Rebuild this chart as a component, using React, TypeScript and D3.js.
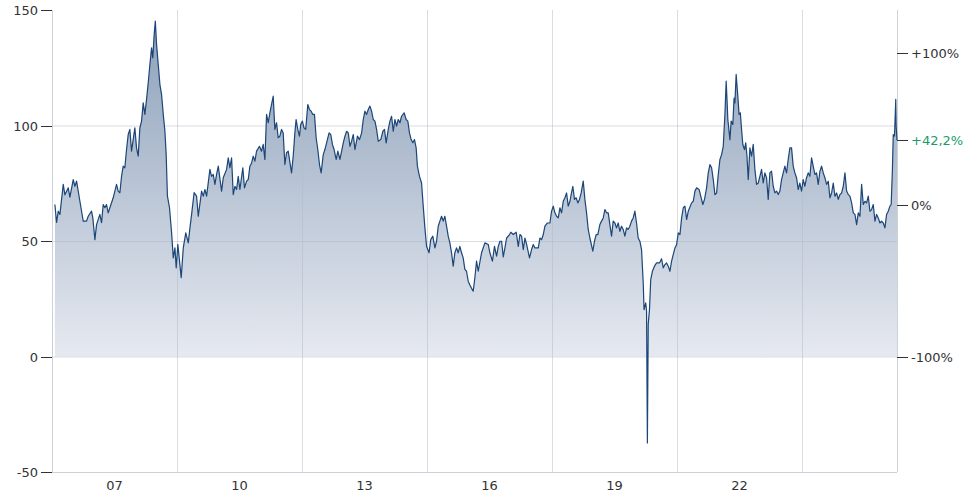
/*eslint-disable*/
import React, { useEffect, useRef } from 'react';
import * as d3 from 'd3';

// decimal years and prices (USD / barrel)
const years = [
  2006.07, 2006.11, 2006.15, 2006.19, 2006.27, 2006.31, 2006.39, 2006.43, 2006.51, 2006.55, 2006.59, 2006.67, 2006.75, 2006.83, 2006.87, 2006.95, 2006.98,
  2007.03, 2007.07, 2007.15, 2007.19, 2007.23, 2007.27, 2007.31, 2007.35, 2007.39, 2007.47, 2007.55, 2007.59, 2007.63, 2007.67, 2007.71, 2007.75, 2007.79, 2007.83, 2007.87, 2007.91, 2007.95, 2007.99,
  2008.03, 2008.07, 2008.11, 2008.15, 2008.19, 2008.23, 2008.27, 2008.31, 2008.35, 2008.39, 2008.42, 2008.45, 2008.48, 2008.51, 2008.55, 2008.59, 2008.63, 2008.67, 2008.71, 2008.74, 2008.77, 2008.82, 2008.87, 2008.91, 2008.95, 2008.98,
  2009.02, 2009.06, 2009.10, 2009.15, 2009.21, 2009.27, 2009.31, 2009.35, 2009.41, 2009.47, 2009.51, 2009.59, 2009.63, 2009.67, 2009.71, 2009.79, 2009.83, 2009.87, 2009.91, 2009.95, 2009.99,
  2010.07, 2010.11, 2010.19, 2010.23, 2010.27, 2010.31, 2010.35, 2010.39, 2010.43, 2010.47, 2010.51, 2010.58, 2010.62, 2010.67, 2010.71, 2010.75, 2010.79, 2010.83, 2010.87, 2010.91, 2010.98,
  2011.03, 2011.07, 2011.11, 2011.15, 2011.19, 2011.23, 2011.27, 2011.31, 2011.35, 2011.39, 2011.43, 2011.47, 2011.51, 2011.55, 2011.59, 2011.63, 2011.67, 2011.75, 2011.79, 2011.83, 2011.86, 2011.90, 2011.94, 2011.97,
  2012.01, 2012.05, 2012.09, 2012.14, 2012.18, 2012.22, 2012.26, 2012.30, 2012.34, 2012.38, 2012.42, 2012.46, 2012.51, 2012.55, 2012.59, 2012.65, 2012.69, 2012.73, 2012.77, 2012.82, 2012.86, 2012.91, 2012.95, 2012.99,
  2013.03, 2013.07, 2013.11, 2013.15, 2013.19, 2013.23, 2013.27, 2013.33, 2013.38, 2013.43, 2013.47, 2013.51, 2013.55, 2013.59, 2013.63, 2013.67, 2013.71, 2013.75, 2013.79, 2013.83, 2013.89, 2013.94, 2013.98,
  2014.02, 2014.07, 2014.11, 2014.15, 2014.19, 2014.23, 2014.27, 2014.31, 2014.35, 2014.39, 2014.45, 2014.50, 2014.54, 2014.58, 2014.62, 2014.66, 2014.70, 2014.74, 2014.77, 2014.82, 2014.87, 2014.91, 2014.95, 2014.99,
  2015.05, 2015.09, 2015.14, 2015.19, 2015.23, 2015.27, 2015.31, 2015.35, 2015.39, 2015.43, 2015.47, 2015.51, 2015.55, 2015.59, 2015.63, 2015.67, 2015.71, 2015.75, 2015.79, 2015.83, 2015.87, 2015.91, 2015.95, 2015.99,
  2016.03, 2016.07, 2016.11, 2016.15, 2016.19, 2016.23, 2016.31, 2016.39, 2016.47, 2016.51, 2016.57, 2016.62, 2016.67, 2016.71, 2016.75, 2016.79, 2016.83, 2016.87, 2016.91, 2016.98,
  2017.01, 2017.07, 2017.14, 2017.19, 2017.23, 2017.27, 2017.31, 2017.35, 2017.39, 2017.46, 2017.51, 2017.55, 2017.59, 2017.67, 2017.71, 2017.75, 2017.79, 2017.83, 2017.89, 2017.95, 2017.99,
  2018.03, 2018.07, 2018.11, 2018.15, 2018.19, 2018.23, 2018.27, 2018.31, 2018.35, 2018.39, 2018.43, 2018.46, 2018.50, 2018.54, 2018.58, 2018.62, 2018.66, 2018.70, 2018.75, 2018.79, 2018.83, 2018.87, 2018.91, 2018.98,
  2019.02, 2019.06, 2019.10, 2019.15, 2019.19, 2019.23, 2019.27, 2019.31, 2019.35, 2019.39, 2019.43, 2019.47, 2019.51, 2019.55, 2019.59, 2019.63, 2019.67, 2019.71, 2019.75, 2019.79, 2019.83, 2019.87, 2019.91, 2019.95, 2019.99,
  2020.03, 2020.07, 2020.11, 2020.15, 2020.19, 2020.21, 2020.25, 2020.27, 2020.29, 2020.31, 2020.34, 2020.37, 2020.41, 2020.46, 2020.51, 2020.58, 2020.63, 2020.67, 2020.71, 2020.75, 2020.79, 2020.83, 2020.87, 2020.91, 2020.95, 2020.99,
  2021.03, 2021.07, 2021.11, 2021.15, 2021.19, 2021.23, 2021.27, 2021.35, 2021.39, 2021.43, 2021.47, 2021.53, 2021.58, 2021.62, 2021.66, 2021.71, 2021.75, 2021.79, 2021.83, 2021.87, 2021.91, 2021.95, 2021.99,
  2022.03, 2022.07, 2022.11, 2022.15, 2022.18, 2022.20, 2022.22, 2022.27, 2022.30, 2022.34, 2022.37, 2022.39, 2022.42, 2022.46, 2022.49, 2022.52, 2022.55, 2022.58, 2022.62, 2022.65, 2022.68, 2022.71, 2022.75, 2022.79, 2022.83, 2022.87, 2022.91, 2022.95, 2022.99,
  2023.03, 2023.07, 2023.11, 2023.15, 2023.19, 2023.23, 2023.27, 2023.31, 2023.35, 2023.39, 2023.43, 2023.47, 2023.51, 2023.55, 2023.59, 2023.63, 2023.67, 2023.71, 2023.75, 2023.79, 2023.83, 2023.87, 2023.91, 2023.95, 2023.99,
  2024.03, 2024.07, 2024.11, 2024.15, 2024.19, 2024.23, 2024.27, 2024.31, 2024.35, 2024.39, 2024.43, 2024.47, 2024.51, 2024.55, 2024.59, 2024.63, 2024.67, 2024.71, 2024.75, 2024.79, 2024.83, 2024.87, 2024.91, 2024.95, 2024.99,
  2025.03, 2025.07, 2025.11, 2025.15, 2025.19, 2025.23, 2025.27, 2025.31, 2025.35, 2025.39, 2025.43, 2025.47, 2025.51, 2025.55, 2025.59, 2025.63, 2025.67, 2025.71, 2025.75, 2025.79, 2025.83, 2025.87, 2025.91, 2025.95, 2025.99,
  2026.03, 2026.07, 2026.11, 2026.14, 2026.17, 2026.19, 2026.22, 2026.25, 2026.26, 2026.28,
];

const prices = [
  65.8, 58, 62.9, 61.5, 74.5, 70, 73, 69, 76.6, 73.7, 75.9, 67.2, 58.6, 58.6, 60.7, 62.9, 60,
  50.6, 57.1, 61.5, 57.9, 65.8, 64.4, 65.8, 62.2, 64.4, 68.7, 74.5, 71.6, 70.9, 78, 82.4, 81.7, 89.6, 96.1, 98.3, 88.9, 93.9, 99,
  90.3, 86.7, 99, 101.9, 109.8, 104.8, 111.3, 118.5, 126.4, 133.6, 129.3, 138.7, 145.2, 135, 126.4, 117.7, 113.4, 104.8, 97.5, 87.4, 69.4, 64.4, 53.5, 42.7, 47, 38.4,
  48.5, 41.3, 34.1, 47, 53.5, 49.2, 55.7, 61.5, 70.9, 69.4, 60.7, 71.6, 69.4, 72.3, 69.4, 81, 78, 78.8, 74.5, 78.8, 82.4,
  71.6, 77.4, 81, 86, 81.7, 86, 70.1, 73.7, 72.3, 78, 72.3, 81.7, 73, 75.9, 76.6, 82.4, 83.8, 86.7, 84.6, 88.9, 91,
  88.9, 91.8, 85.3, 104.8, 101.2, 105.5, 109.1, 112.7, 98.3, 101.2, 94.7, 95.4, 98.3, 96.8, 83.1, 88.2, 88.9, 79.5, 86.7, 96.8, 102.6, 98.3, 95.4, 100.4,
  101.9, 99, 98.3, 109.1, 106.9, 106.2, 104.8, 104.8, 94.7, 89.6, 83.1, 79.5, 87.4, 89.6, 92.5, 96.8, 96.1, 91.8, 89.6, 85.3, 88.9, 85.3, 88.9, 92.5,
  95.4, 97.5, 96.8, 91, 93.2, 96.1, 89.6, 95.4, 93.9, 96.8, 102.6, 106.2, 104.8, 106.9, 108.4, 106.2, 102.6, 101.9, 98.3, 93.2, 93.9, 97.5, 98.3,
  92.5, 98.3, 101.9, 104, 97.5, 102.6, 99.7, 102.6, 101.2, 104, 105.5, 102.6, 101.9, 96.8, 93.9, 92.5, 93.9, 90.3, 82.4, 78, 75.1, 65.1, 55.7, 47.7,
  44.9, 50.6, 52.1, 47, 49.9, 56.4, 58.6, 60.7, 58.6, 60.7, 56.4, 52.1, 49.2, 44.9, 39.1, 44.9, 47, 44.9, 47.7, 44.9, 42.7, 37.7, 36.9, 32.6,
  31, 29.5, 28.3, 34.1, 41.3, 36.9, 44.9, 49.2, 48.5, 44.9, 41.3, 47.7, 43.4, 47.7, 49.9, 49.9, 43.1, 47, 51.3, 52.8,
  53.8, 52.8, 53.8, 47.7, 52.8, 52.1, 46.3, 51.3, 48.5, 42.7, 46.3, 48.5, 47, 47, 51.3, 50.6, 52.8, 56.4, 57.8, 57.8, 62.9,
  65.1, 62.2, 60.7, 60, 64.4, 62.2, 67.2, 68.7, 70.8, 65.1, 67.2, 70.1, 73.7, 68, 68.7, 66.5, 68, 70.8, 75.9, 68, 62.2, 55, 51.3, 45.6,
  49.9, 52.8, 52.8, 57.1, 58.6, 60, 63.6, 62.2, 62.2, 57.1, 52.1, 58.6, 57.8, 55.7, 57.8, 54.2, 56.4, 55, 52.1, 55.7, 55, 56.4, 58.6, 60, 62.9,
  57.8, 51.3, 49.9, 46.3, 31.9, 20.3, 23.2, 19.6, -37.4, 13.9, 20.3, 33.3, 36.9, 39.1, 40.5, 40.5, 42.3, 38.4, 39.8, 40.5, 39.1, 36.9, 41.3, 44.2, 47, 48.5,
  53.5, 52.8, 60, 64.4, 65.1, 59.3, 62.9, 66.5, 67.2, 71.6, 73, 72.3, 68.7, 65.8, 68, 73, 79.5, 83.1, 81.7, 76.6, 70.1, 70.8, 78.8,
  85.3, 87.4, 91, 104.8, 119.2, 111.3, 102.6, 93.9, 101.9, 100.4, 111.9, 109.8, 122.1, 112.7, 104.8, 105.5, 98.3, 91.8, 89.6, 92.5, 86.7, 76.6, 90.3, 86.7, 91.8, 81, 74.5, 75.1, 78,
  81, 75.1, 79.5, 77.4, 68, 79.5, 80.2, 73.7, 70.8, 71.6, 70.1, 71.6, 76.6, 79.5, 82.4, 79.5, 85.3, 90.3, 90.3, 82.4, 79.5, 77.4, 72.3, 75.1, 71.6,
  76.6, 73.7, 77.4, 79.5, 78, 86, 82.4, 78.8, 79.5, 74.5, 80.2, 82.4, 79.5, 77.4, 74.5, 75.9, 68.7, 70.8, 75.1, 69.4, 70.8, 68, 70.1, 70.8, 73.7,
  79.5, 71.6, 70.1, 69.4, 66.5, 62.2, 61.5, 57.1, 62.2, 60.7, 74.5, 65.8, 67.2, 66.5, 69.4, 62.9, 63.6, 65.8, 58.6, 61.5, 60, 57.8, 58.6, 57.8, 55.7,
  61.5, 62.9, 65.1, 65.8, 81, 96.1, 95.4, 111.3, 99.7, 93.6,
];

const yTicks = [-50, 0, 50, 100, 150];
const yGridValues = [0, 50, 100];
const xLabels = ['07', '10', '13', '16', '19', '22'];
const xLabelYears = [2007.5, 2010.5, 2013.5, 2016.5, 2019.5, 2022.5];
const gridYears = [2009, 2012, 2015, 2018, 2021, 2024];
const pctTicks = [-100, 0, 100];
const domainYears = [2006, 2026.28];

const toDate = (t: number) => {
  const y = Math.floor(t);
  const a = new Date(y, 0, 1).getTime();
  const b = new Date(y + 1, 0, 1).getTime();
  return new Date(a + (b - a) * (t - y));
};

const fmtPct = (p: number) => {
  const s = p === 0 ? '0' : Math.abs(p) % 1 === 0 ? String(Math.abs(p)) : Math.abs(p).toFixed(1).replace('.', ',');
  return (p > 0 ? '+' : p < 0 ? '-' : '') + s + '%';
};

const App: React.FC = () => {
  const svgRef = useRef<SVGSVGElement>(null);

  useEffect(() => {
    const width = 980;
    const height = 500;
    const margin = { top: 10, right: 83, bottom: 28, left: 52 };
    const font = 'Verdana, "DejaVu Sans", sans-serif';

    const data = years.map((t, i) => ({ date: toDate(t), value: prices[i] }));
    const base = prices[0];
    const last = prices[prices.length - 1];

    const svg = d3.select(svgRef.current);
    svg.selectAll('*').remove();
    svg.attr('width', width).attr('height', height);

    const x = d3.scaleTime()
      .domain(domainYears.map(toDate) as [Date, Date])
      .range([margin.left, width - margin.right]);
    const y = d3.scaleLinear()
      .domain([-50, 150])
      .range([height - margin.bottom, margin.top]);

    const defs = svg.append('defs');
    const grad = defs.append('linearGradient')
      .attr('id', 'areaFill')
      .attr('gradientUnits', 'userSpaceOnUse')
      .attr('x1', 0).attr('x2', 0)
      .attr('y1', y(150)).attr('y2', y(0));
    grad.append('stop').attr('offset', '0%').attr('stop-color', '#8a9fb9');
    grad.append('stop').attr('offset', '100%').attr('stop-color', '#e6e9f0');

    const area = d3.area<{ date: Date; value: number }>()
      .x(d => x(d.date))
      .y0(y(0))
      .y1(d => y(d.value));
    const line = d3.line<{ date: Date; value: number }>()
      .x(d => x(d.date))
      .y(d => y(d.value));

    svg.append('path')
      .datum(data)
      .attr('d', area)
      .attr('fill', 'url(#areaFill)');

    // grid
    const grid = svg.append('g').attr('stroke', '#b4bac4').attr('stroke-opacity', 0.5);
    grid.selectAll('line.h')
      .data(yGridValues)
      .enter()
      .append('line')
      .attr('x1', margin.left).attr('x2', width - margin.right)
      .attr('y1', d => y(d) + 0.5).attr('y2', d => y(d) + 0.5);
    grid.selectAll('line.v')
      .data(gridYears)
      .enter()
      .append('line')
      .attr('x1', d => Math.round(x(toDate(d))) + 0.5).attr('x2', d => Math.round(x(toDate(d))) + 0.5)
      .attr('y1', margin.top).attr('y2', height - margin.bottom);

    // frame
    const frame = svg.append('g').attr('stroke', '#cdd1d8').attr('fill', 'none');
    frame.append('line')
      .attr('x1', margin.left + 0.5).attr('x2', margin.left + 0.5)
      .attr('y1', margin.top).attr('y2', height - margin.bottom);
    frame.append('line')
      .attr('x1', width - margin.right + 0.5).attr('x2', width - margin.right + 0.5)
      .attr('y1', margin.top).attr('y2', height - margin.bottom);
    frame.append('line')
      .attr('x1', margin.left).attr('x2', width - margin.right)
      .attr('y1', height - margin.bottom + 0.5).attr('y2', height - margin.bottom + 0.5);

    svg.append('path')
      .datum(data)
      .attr('d', line)
      .attr('fill', 'none')
      .attr('stroke', '#1b4677')
      .attr('stroke-width', 1.2)
      .attr('stroke-linejoin', 'round');

    // left axis
    const left = svg.append('g');
    const lt = left.selectAll('g').data(yTicks).enter().append('g')
      .attr('transform', d => `translate(0,${Math.round(y(d)) + 0.5})`);
    lt.append('line').attr('x1', margin.left - 11).attr('x2', margin.left).attr('stroke', '#333');
    lt.append('text')
      .attr('x', margin.left - 14)
      .attr('dy', '0.35em')
      .attr('text-anchor', 'end')
      .attr('font-family', font)
      .attr('font-size', 13)
      .attr('fill', '#333')
      .text(d => String(d));

    // right axis (% change from first value)
    const right = svg.append('g');
    const rTicks = pctTicks.map(p => ({ p, v: base * (1 + p / 100), color: '#333' }));
    rTicks.push({ p: Math.round((last / base - 1) * 1000) / 10, v: last, color: '#1a9a6c' });
    const rt = right.selectAll('g').data(rTicks).enter().append('g')
      .attr('transform', d => `translate(0,${Math.round(y(d.v)) + 0.5})`);
    rt.append('line')
      .attr('x1', width - margin.right).attr('x2', width - margin.right + 11)
      .attr('stroke', '#333');
    rt.append('text')
      .attr('x', width - margin.right + 14)
      .attr('dy', '0.35em')
      .attr('font-family', font)
      .attr('font-size', 13)
      .attr('fill', d => d.color)
      .text(d => fmtPct(d.p));

    // bottom labels
    svg.append('g').selectAll('text')
      .data(xLabels)
      .enter()
      .append('text')
      .attr('x', (d, i) => x(toDate(xLabelYears[i])))
      .attr('y', height - margin.bottom + 18)
      .attr('text-anchor', 'middle')
      .attr('font-family', font)
      .attr('font-size', 13)
      .attr('fill', '#333')
      .text(d => d);
  }, []);

  return <svg ref={svgRef} style={{ position: 'absolute', left: 0, top: 0 }}></svg>;
};

export default App;
